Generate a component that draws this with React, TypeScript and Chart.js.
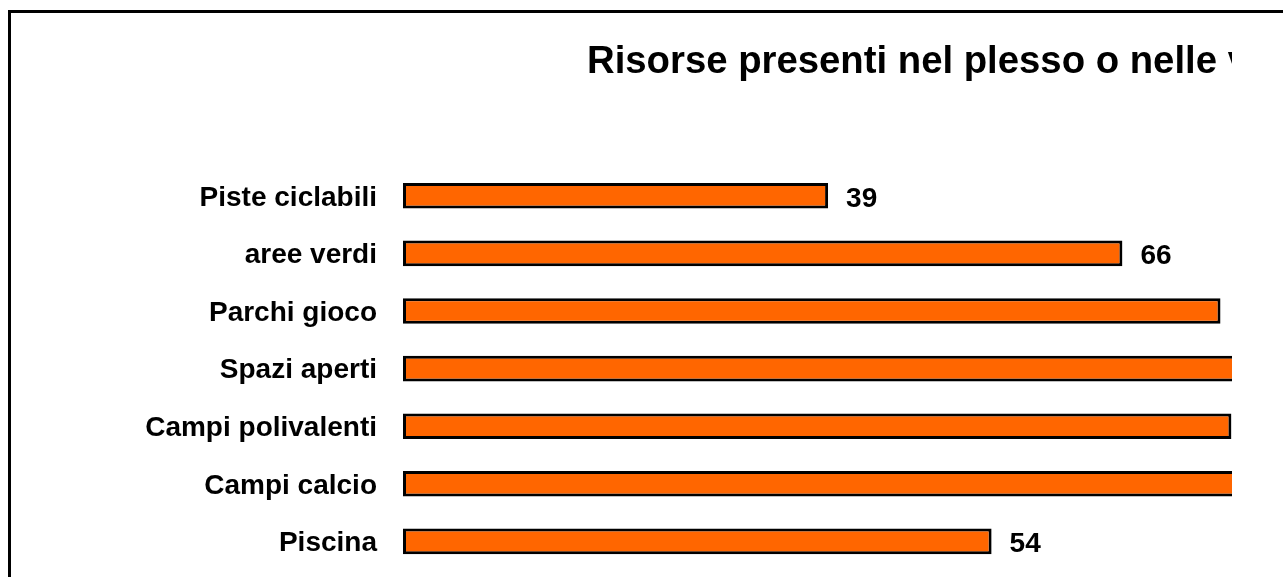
import React, { useEffect, useRef } from "react";
import { Chart, registerables } from "chart.js";

Chart.register(...registerables);

const TITLE = "Risorse presenti nel plesso o nelle vicinanze";
const categories = [
  "Piste ciclabili",
  "aree verdi",
  "Parchi gioco",
  "Spazi aperti",
  "Campi polivalenti",
  "Campi calcio",
  "Piscina",
];
const values = [39, 66, 75, 84, 76, 80, 54];

const FONT = "Arial, 'Liberation Sans', Helvetica, sans-serif";

const titlePlugin = {
  id: "customTitle",
  afterDraw(chart: any) {
    const { ctx, chartArea } = chart;
    ctx.save();
    ctx.fillStyle = "#000";
    ctx.font = `bold 38.3px ${FONT}`;
    ctx.textAlign = "left";
    ctx.textBaseline = "alphabetic";
    ctx.fillText(TITLE, chartArea.left + 184, 59.5);
    ctx.restore();
  },
};

const valueLabels = {
  id: "valueLabels",
  afterDatasetsDraw(chart: any) {
    const { ctx } = chart;
    const meta = chart.getDatasetMeta(0);
    ctx.save();
    ctx.fillStyle = "#000";
    ctx.font = `bold 28px ${FONT}`;
    ctx.textAlign = "left";
    ctx.textBaseline = "alphabetic";
    meta.data.forEach((bar: any, i: number) => {
      ctx.fillText(String(values[i]), bar.x + 18, bar.y + 11);
    });
    ctx.restore();
  },
};

export default function App() {
  const ref = useRef<HTMLCanvasElement>(null);
  useEffect(() => {
    if (!ref.current) return;
    const chart = new Chart(ref.current, {
      type: "bar",
      data: {
        labels: categories,
        datasets: [
          {
            data: values,
            backgroundColor: "#FF6600",
            borderColor: "#000000",
            borderWidth: 3,
            borderSkipped: false,
            barPercentage: 0.89,
            categoryPercentage: 0.5,
          },
        ],
      },
      options: {
        indexAxis: "y",
        animation: false,
        responsive: false,
        devicePixelRatio: 1,
        layout: { padding: { left: 0, right: 27, top: 154, bottom: 42 } },
        plugins: {
          legend: { display: false },
          title: { display: false },
          tooltip: { enabled: false },
        },
        scales: {
          x: {
            display: false,
            min: 0,
            max: 90,
          },
          y: {
            grid: { display: false, drawTicks: false },
            border: { display: false },
            afterFit: (s: any) => {
              s.width = 392;
            },
            ticks: {
              padding: 26,
              labelOffset: 2,
              color: "#000",
              font: { family: FONT, size: 28, weight: "bold" },
            },
          },
        },
      },
      plugins: [titlePlugin, valueLabels],
    });
    return () => chart.destroy();
  }, []);

  return (
    <div
      style={{
        position: "absolute",
        left: 8,
        top: 10,
        width: 1275,
        height: 567,
        borderTop: "3px solid #000",
        borderLeft: "3px solid #000",
        boxSizing: "border-box",
        overflow: "hidden",
        background: "#fff",
      }}
    >
      <div style={{ width: 1221, height: 564, overflow: "hidden" }}>
        <canvas
          ref={ref}
          width={1400}
          height={600}
          style={{ display: "block", width: 1400, height: 600 }}
        />
      </div>
    </div>
  );
}
